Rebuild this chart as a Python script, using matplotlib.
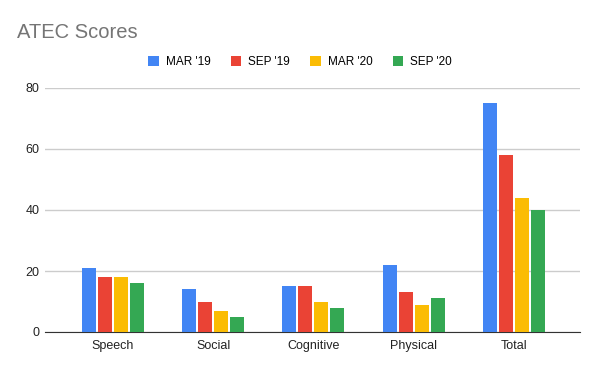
import numpy as np
import matplotlib.pyplot as plt

categories = ['Speech', 'Social', 'Cognitive', 'Physical', 'Total']
series = ["MAR '19", "SEP '19", "MAR '20", "SEP '20"]
mar19 = [21, 14, 15, 22, 75]
sep19 = [18, 10, 15, 13, 58]
mar20 = [18, 7, 10, 9, 44]
sep20 = [16, 5, 8, 11, 40]
colors = ['#4285F4', '#EA4335', '#FBBC04', '#34A853']

plt.rcParams['font.family'] = ['Arial', 'Liberation Sans', 'DejaVu Sans']

fig = plt.figure(figsize=(6, 3.71), dpi=100)
ax = fig.add_axes([45/600, 1-332/371, 535/600, (332-88)/371])

x = np.arange(len(categories))
w = 0.14
for i, (vals, name) in enumerate(zip([mar19, sep19, mar20, sep20], series)):
    ax.bar(x + (i - 1.5) * 0.16, vals, w, color=colors[i], label=name, zorder=3)

ax.set_ylim(0, 80)
ax.set_xlim(-0.678, 4.66)
ax.set_yticks([0, 20, 40, 60, 80])
ax.set_xticks(x)
ax.set_xticklabels(categories)
ax.grid(axis='y', color='#cccccc', linewidth=1, zorder=0)
for s in ['top', 'right', 'left']:
    ax.spines[s].set_visible(False)
ax.spines['bottom'].set_color('#333333')
ax.tick_params(axis='both', length=0, labelsize=9, colors='#222222')
ax.tick_params(axis='y', pad=4)
ax.tick_params(axis='x', pad=6)

fig.text(17/600, 1-32/371, 'ATEC Scores', fontsize=14.5, color='#757575', va='center')
fig.legend(loc='center', bbox_to_anchor=(300/600, 1-62/371), ncol=4, frameon=False,
           fontsize=8.5, handlelength=0.9, handleheight=0.9, columnspacing=1.7, handletextpad=0.6)

fig.savefig('out.png', dpi=100)
